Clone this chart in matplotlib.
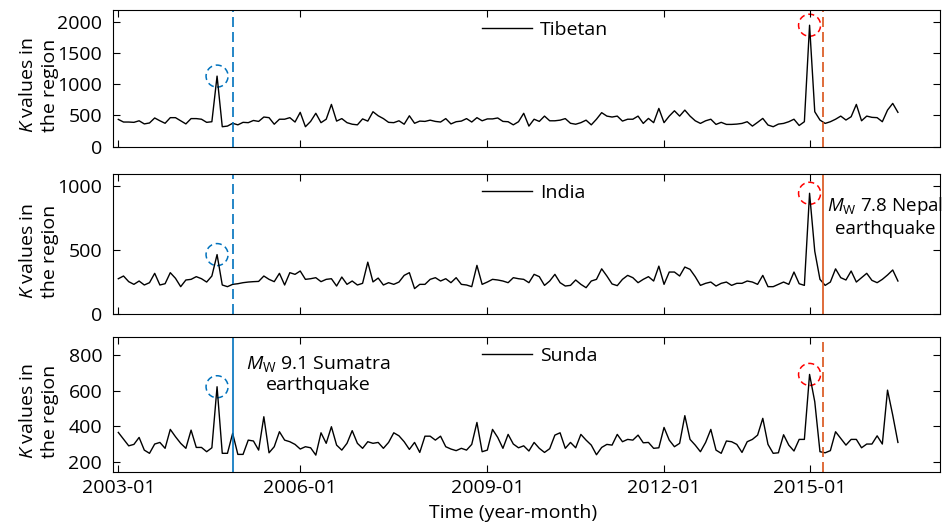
import matplotlib
matplotlib.use("Agg")
import matplotlib.pyplot as plt
from matplotlib.patches import Circle
from matplotlib.transforms import ScaledTranslation

plt.rcParams['font.family'] = ['Open Sans', 'DejaVu Sans']
plt.rcParams['mathtext.fontset'] = 'custom'
plt.rcParams['mathtext.rm'] = 'Open Sans'
plt.rcParams['mathtext.it'] = 'Open Sans:italic'
plt.rcParams['font.size'] = 14

# K values per region, one value per available month (sample index)
tibetan = [437, 395, 395, 390, 415, 365, 380, 460, 415, 375, 465, 465, 415, 365, 450, 450, 440, 390, 400, 1130,
           320, 330, 375, 350, 390, 385, 420, 405, 475, 465, 360, 440, 440, 465, 395, 550, 320, 405, 535, 385,
           440, 677, 410, 450, 385, 360, 350, 445, 410, 560, 495, 450, 390, 385, 415, 360, 495, 375, 410, 405,
           425, 405, 395, 450, 365, 400, 410, 450, 395, 465, 415, 445, 445, 460, 405, 400, 350, 400, 535, 330,
           440, 405, 490, 415, 415, 425, 450, 375, 360, 385, 425, 350, 440, 545, 490, 475, 490, 410, 440, 440,
           490, 373, 453, 385, 613, 385, 490, 575, 490, 586, 490, 415, 373, 415, 440, 357, 390, 357, 357, 362,
           373, 400, 330, 390, 453, 347, 320, 362, 373, 400, 440, 340, 400, 1944, 560, 427, 373, 400, 440, 490,
           427, 480, 677, 415, 490, 470, 465, 400, 586, 693, 550]
india = [275, 296, 252, 231, 257, 226, 244, 317, 226, 236, 322, 278, 213, 265, 270, 291, 275, 249, 296, 463,
         226, 213, 231, 236, 244, 249, 252, 254, 296, 270, 252, 317, 226, 322, 309, 335, 270, 275, 283, 252,
         270, 275, 218, 288, 231, 257, 226, 239, 404, 250, 280, 226, 244, 231, 249, 301, 322, 198, 231, 231,
         270, 283, 257, 275, 244, 283, 231, 226, 213, 379, 231, 249, 270, 265, 257, 244, 283, 275, 270, 244,
         309, 291, 223, 257, 309, 244, 218, 223, 265, 231, 205, 257, 270, 352, 296, 234, 221, 270, 301, 283,
         244, 270, 291, 257, 373, 231, 327, 327, 296, 366, 348, 291, 223, 239, 249, 218, 239, 249, 223, 239,
         239, 257, 249, 231, 301, 213, 213, 231, 249, 231, 327, 236, 223, 941, 489, 270, 223, 249, 352, 283,
         265, 335, 249, 283, 317, 262, 244, 270, 304, 343, 257]
sunda = [366, 329, 291, 299, 338, 267, 249, 301, 310, 277, 383, 342, 305, 277, 379, 282, 282, 258, 280, 622,
         249, 249, 361, 243, 243, 323, 318, 267, 454, 252, 286, 370, 323, 314, 299, 273, 286, 280, 239, 364,
         305, 398, 295, 267, 305, 376, 305, 277, 314, 305, 310, 277, 310, 364, 347, 314, 271, 310, 254, 345,
         345, 323, 345, 286, 273, 264, 277, 267, 299, 422, 258, 267, 383, 338, 277, 355, 301, 280, 291, 262,
         310, 277, 254, 275, 351, 364, 277, 310, 280, 355, 323, 295, 241, 282, 299, 295, 355, 314, 327, 323,
         351, 308, 310, 277, 280, 394, 323, 286, 305, 460, 327, 295, 258, 310, 383, 267, 249, 318, 314, 299,
         254, 314, 327, 351, 445, 299, 249, 252, 353, 295, 262, 327, 327, 691, 538, 258, 252, 264, 370, 333,
         295, 327, 327, 280, 301, 301, 347, 301, 603, 463, 310]

regions = ['Tibetan', 'India', 'Sunda']
series = [tibetan, india, sunda]
ylims = [(0, 2180), (0, 1090), (146, 899)]
yticks = [[0, 500, 1000, 1500, 2000], [0, 500, 1000], [200, 400, 600, 800]]

tick_idx = [0, 35, 71, 105, 133]
tick_labels = ['2003-01', '2006-01', '2009-01', '2012-01', '2015-01']

sumatra_x = 22.04   # Mw 9.1 Sumatra, 2004-12
nepal_x = 135.6     # Mw 7.8 Nepal, 2015-04
peak_idx = [19, 133]

blue = '#0072BD'
orange = '#D95319'

fig = plt.figure(figsize=(9.42, 5.24), dpi=100)
left, width = 0.1203, 0.8776
boxes = [(0.720, 0.260), (0.4008, 0.2668), (0.0998, 0.2565)]
axes = [fig.add_axes([left, b, width, h]) for b, h in boxes]

legend_y = [0.857, 0.866, 0.861]

for k, ax in enumerate(axes):
    vals = series[k]
    x = list(range(len(vals)))
    ax.plot(x, vals, color='black', lw=1.0, label=regions[k])
    ax.set_xlim(-0.96, 158.1)
    ax.set_ylim(*ylims[k])
    ax.set_yticks(yticks[k])
    ax.set_xticks(tick_idx)
    if k == 2:
        ax.set_xticklabels(tick_labels)
    else:
        ax.set_xticklabels([])
    ax.tick_params(direction='in', top=True, right=True, length=5, width=0.8)
    ax.tick_params(axis='y', pad=8)
    ax.tick_params(axis='x', pad=5)
    for sp in ax.spines.values():
        sp.set_linewidth(0.8)

    # event lines: solid in the panel of the region hit, dashed elsewhere
    ax.axvline(sumatra_x, color=blue, lw=1.2, ls='-' if k == 2 else (0, (6, 3)))
    ax.axvline(nepal_x, color=orange, lw=1.2, ls='-' if k == 1 else (0, (6, 3)))

    # dashed circles around the peaks
    for p, col in zip(peak_idx, [blue, 'red']):
        tr = fig.dpi_scale_trans + ScaledTranslation(p, vals[p], ax.transData)
        c = Circle((0, 0), 0.11, transform=tr, fill=False, edgecolor=col,
                   lw=1.1, ls=(0, (4, 2.5)), clip_on=False)
        ax.add_patch(c)

    ax.legend(loc='center left', bbox_to_anchor=(0.4455, legend_y[k]), frameon=False,
              borderpad=0, borderaxespad=0, handlelength=2.6, handletextpad=0.4, fontsize=14)
    ax.set_ylabel('$K$ values in\nthe region', fontsize=14, linespacing=1.3)
    ax.yaxis.set_label_coords(-0.066, 0.45)

axes[2].text(38.4, 693, '$M_\\mathrm{W}$ 9.1 Sumatra\nearthquake', ha='center', va='center',
             fontsize=14, linespacing=1.15)
axes[1].text(147.6, 758, '$M_\\mathrm{W}$ 7.8 Nepal\nearthquake', ha='center', va='center',
             fontsize=13.5, linespacing=1.2)

axes[2].set_xlabel('Time (year-month)', fontsize=14)
axes[2].xaxis.set_label_coords(0.483, -0.24)

fig.savefig('out.png', dpi=100)
